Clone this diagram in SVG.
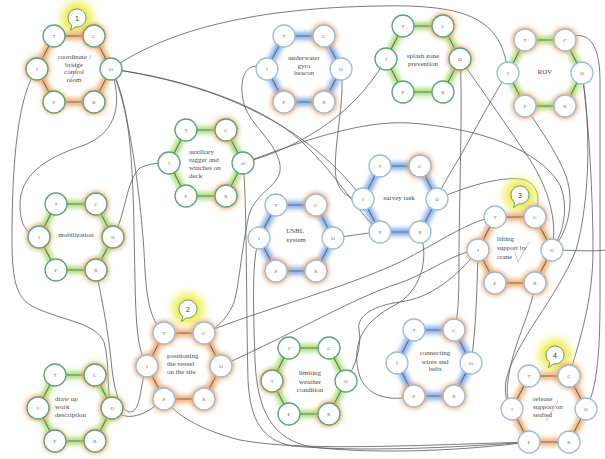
<svg xmlns="http://www.w3.org/2000/svg" xmlns:xlink="http://www.w3.org/1999/xlink" width="605" height="459" viewBox="0 0 605 459">
<style>
.con path{fill:none;stroke:#595959;stroke-width:0.8}
.hx{fill:#fff;stroke:none}
.hg{fill:none;stroke-width:8;opacity:.85;filter:url(#bl)}
.grn .hg{stroke:#a3dc68}
.blu .hg{stroke:#76a3f0}
.org .hg{stroke:#f3a566}
.ed{fill:none;stroke:#5f7468;stroke-width:1.1}
.og{fill:#f3a566;opacity:.9;filter:url(#bl)}
.lt{font-family:"Liberation Serif",serif;font-size:5px;fill:#666;stroke:none;text-anchor:middle}
.t{font-family:"Liberation Serif",serif;font-size:7px;fill:#4a4a4a}
.m{text-anchor:middle}
.bg{fill:#eeec50;filter:url(#bl2)}
.bub{fill:#fff;stroke:#5a9a70;stroke-width:1}
.bn{font-family:"Liberation Sans",sans-serif;font-size:7px;fill:#333;text-anchor:middle}
.chk{fill:none;stroke:#a0a0a0;stroke-width:0.6}
</style>
<defs>
<filter id="bl" x="-50%" y="-50%" width="200%" height="200%"><feGaussianBlur stdDeviation="2.2"/></filter>
<filter id="bl2" x="-50%" y="-50%" width="200%" height="200%"><feGaussianBlur stdDeviation="4"/></filter>
<polygon id="hexg" points="-20,-33 20,-33 37,0 20,33 -20,33 -37,0"/>
<g id="ring">
<circle cx="-20" cy="-33" r="11" fill="#fff"/><circle cx="20" cy="-33" r="11" fill="#fff"/>
<circle cx="-37" cy="0" r="11" fill="#fff"/><circle cx="37" cy="0" r="11" fill="#fff"/>
<circle cx="-20" cy="33" r="11" fill="#fff"/><circle cx="20" cy="33" r="11" fill="#fff"/>
<text class="lt" x="-20" y="-31.2">T</text><text class="lt" x="20" y="-31.2">C</text>
<text class="lt" x="-37" y="1.8">I</text><text class="lt" x="37" y="1.8">O</text>
<text class="lt" x="-20" y="34.8">P</text><text class="lt" x="20" y="34.8">R</text>
</g>
<g id="bubble"><circle r="16" class="bg"/><path class="bub" d="M-1.56,8.86 A9,9 0 1 0 -5.16,7.37 L-6.5,12.5 Z"/></g>
</defs>
<rect width="605" height="459" fill="#fff"/>

<g class="con" id="connectors">
<path d="M111,69 C160,35 240,8 380,6 C470,4 502,20 508,73"/>
<path d="M111,69 C200,82 300,115 363,199"/>
<path d="M111,69 C180,78 270,105 310,150 C340,180 360,215 380,232"/>
<path d="M111,69 C135,110 133,200 135,280 C136,330 138,350 147,366"/>
<path d="M111,69 C128,100 142,200 145,270 C147,305 152,322 164,333"/>
<path d="M111,69 C125,110 112,135 82,146 C45,158 20,175 20,205 C20,225 27,235 39,237"/>
<path d="M37,69 C18,95 12,160 12,240 C12,285 18,298 32,306 C58,320 96,322 104,342 C110,362 106,392 112,408"/>
<path d="M113,237 C126,215 126,180 140,168 C150,163 160,163 169,163"/>
<path d="M96,270 C102,300 108,330 111,360 C114,392 120,412 131,412 C142,410 140,380 147,366"/>
<path d="M112,408 C126,424 146,415 164,399"/>
<path d="M243,163 C290,150 350,122 386,59"/>
<path d="M243,163 C300,142 360,120 410,123 C480,128 540,150 560,185 C570,210 562,235 552,250"/>
<path d="M243,163 C247,200 246,300 248,380 C250,420 262,440 292,446 C360,452 450,448 529,442"/>
<path d="M267,69 C250,60 238,72 243,100 C248,125 276,140 280,165 C283,186 256,190 249,215 C241,250 239,290 233,305 C226,320 215,330 204,333"/>
<path d="M341,69 C346,100 332,150 336,178 C340,195 352,200 363,199"/>
<path d="M333,238 C350,236 365,233 380,232"/>
<path d="M204,333 C260,310 340,290 400,262 C440,242 470,220 495,217"/>
<path d="M221,366 C300,330 360,295 400,283 C430,272 455,252 478,250"/>
<path d="M437,199 C470,185 505,175 525,180 C540,187 540,200 535,217"/>
<path d="M460,59 C463,100 459,200 459,260 C459,300 458,318 454,330"/>
<path d="M460,59 C482,90 510,130 530,160 C548,188 558,220 552,250"/>
<path d="M508,73 C490,100 470,140 455,165 C446,180 440,190 437,199"/>
<path d="M525,106 C537,125 556,150 566,176 C576,205 566,235 552,250"/>
<path d="M565,40 C585,28 600,40 600,80 L600,300 C600,360 596,390 586,409"/>
<path d="M582,73 C589,120 593,200 593,250 C593,300 580,340 569,376"/>
<path d="M582,73 C591,130 590,200 576,250 C556,300 516,340 506,380 C504,395 507,405 512,409"/>
<path d="M535,283 C533,310 512,345 508,380 C506,393 508,404 512,409"/>
<path d="M552,250 C575,250 592,252 605,250"/>
<path d="M478,250 C477,290 476,330 471,363"/>
<path d="M346,381 C356,365 362,345 359,330 C356,315 376,305 400,302 C430,298 456,278 478,250"/>
<path d="M414,396 C395,401 364,400 358,370 C352,340 366,320 395,305 C420,292 430,260 420,232"/>
<path d="M164,399 C176,415 200,430 240,440 C300,451 400,446 529,442"/>
<path d="M259,238 C252,260 253,300 255,360 C257,410 272,440 312,447 C380,455 470,450 529,442"/>
</g>

<g id="n-coordinate" class="org" transform="translate(74,69)">
<use href="#bubble" x="3" y="-51"/>
<use href="#hexg" class="hx"/><use href="#hexg" class="hg"/><use href="#hexg" class="ed"/>
<circle class="og" cx="20" cy="-33" r="13"/><circle class="og" cx="-37" cy="0" r="13"/><circle class="og" cx="20" cy="33" r="13"/><circle class="og" cx="-20" cy="33" r="12"/>
<use href="#ring" stroke="#5aa57c" stroke-width="1.3"/>
<text class="bn" x="3" y="-48.5">1</text>
<text class="t m" x="0" y="-10">coordinate /</text><text class="t m" x="0" y="-2.5">bridge</text><text class="t m" x="0" y="5">control</text><text class="t m" x="0" y="12.5">room</text>
<path class="chk" d="M-5,14 L6,-6"/>
</g>

<g id="n-underwater" class="blu" transform="translate(304,69)">
<use href="#hexg" class="hx"/><use href="#hexg" class="hg"/><use href="#hexg" class="ed"/>
<circle class="og" cx="20" cy="-33" r="13"/><circle class="og" cx="-20" cy="33" r="13"/><circle class="og" cx="20" cy="33" r="13"/>
<use href="#ring" stroke="#9dbcd8" stroke-width="1.3"/>
<text class="t m" x="0" y="-9.5">underwater</text><text class="t m" x="0" y="-1.5">gyro</text><text class="t m" x="0" y="6">beacon</text>
</g>

<g id="n-splash" class="grn" transform="translate(423,59)">
<use href="#hexg" class="hx"/><use href="#hexg" class="hg"/><use href="#hexg" class="ed"/>
<circle class="og" cx="20" cy="-33" r="13"/><circle class="og" cx="37" cy="0" r="13"/>
<use href="#ring" stroke="#5aa57c" stroke-width="1.3"/>
<text class="t m" x="0" y="-1">splash zone</text><text class="t m" x="0" y="6.5">prevention</text>
</g>

<g id="n-rov" class="grn" transform="translate(545,73)">
<use href="#hexg" class="hx"/><use href="#hexg" class="hg"/><use href="#hexg" class="ed"/>
<circle class="og" cx="-20" cy="-33" r="13"/><circle class="og" cx="20" cy="-33" r="13"/><circle class="og" cx="-20" cy="33" r="13"/><circle class="og" cx="20" cy="33" r="13"/>
<use href="#ring" stroke="#9dbcd8" stroke-width="1.3"/>
<text class="t m" x="0" y="1">ROV</text>
</g>

<g id="n-auxiliary" class="grn" transform="translate(206,163)">
<use href="#hexg" class="hx"/><use href="#hexg" class="hg"/><use href="#hexg" class="ed"/>
<circle class="og" cx="20" cy="-33" r="13"/><circle class="og" cx="20" cy="33" r="13"/>
<use href="#ring" stroke="#5aa57c" stroke-width="1.3"/>
<text class="t" x="-17" y="-9">auxiliary</text><text class="t" x="-17" y="-1.5">tugger and</text><text class="t" x="-17" y="7">winches on</text><text class="t" x="-17" y="15">deck</text>
</g>

<g id="n-mobilization" class="grn" transform="translate(76,237)">
<use href="#hexg" class="hx"/><use href="#hexg" class="hg"/><use href="#hexg" class="ed"/>
<circle class="og" cx="20" cy="-33" r="13"/><circle class="og" cx="-37" cy="0" r="13"/><circle class="og" cx="37" cy="0" r="13"/><circle class="og" cx="20" cy="33" r="13"/>
<use href="#ring" stroke="#5aa57c" stroke-width="1.3"/>
<text class="t m" x="0" y="0">mobilization</text>
</g>

<g id="n-usbl" class="blu" transform="translate(296,238)">
<use href="#hexg" class="hx"/><use href="#hexg" class="hg"/><use href="#hexg" class="ed"/>
<circle class="og" cx="20" cy="-33" r="13"/><circle class="og" cx="-20" cy="33" r="13"/><circle class="og" cx="20" cy="33" r="13"/>
<use href="#ring" stroke="#9dbcd8" stroke-width="1.3"/>
<text class="t m" x="-1" y="-5.5">USBL</text><text class="t m" x="0" y="3.5">system</text>
</g>

<g id="n-survey" class="blu" transform="translate(400,199)">
<use href="#hexg" class="hx"/><use href="#hexg" class="hg"/><use href="#hexg" class="ed"/>
<circle class="og" cx="20" cy="-33" r="13"/>
<use href="#ring" stroke="#9dbcd8" stroke-width="1.3"/>
<text class="t m" x="-1" y="0.5">survey task</text>
</g>

<g id="n-lifting" class="org" transform="translate(515,250)">
<use href="#bubble" x="5" y="-55"/>
<use href="#hexg" class="hx"/><use href="#hexg" class="hg"/><use href="#hexg" class="ed"/>
<circle class="og" cx="20" cy="-33" r="13"/><circle class="og" cx="-37" cy="0" r="12"/><circle class="og" cx="-20" cy="33" r="13"/><circle class="og" cx="20" cy="33" r="13"/>
<use href="#ring" stroke="#9dbcd8" stroke-width="1.3"/>
<text class="bn" x="5" y="-52.5">3</text>
<text class="t" x="-18" y="-9.5">lifting</text><text class="t" x="-18" y="-0.5">support by</text><text class="t" x="-18" y="9">crane</text>
<path class="chk" d="M0,2 L3,12 L14,-8"/>
</g>

<g id="n-positioning" class="org" transform="translate(184,366)">
<use href="#bubble" x="4" y="-57"/>
<use href="#hexg" class="hx"/><use href="#hexg" class="hg"/><use href="#hexg" class="ed"/>
<circle class="og" cx="-20" cy="-33" r="13"/><circle class="og" cx="20" cy="-33" r="13"/><circle class="og" cx="-37" cy="0" r="13"/><circle class="og" cx="37" cy="0" r="13"/><circle class="og" cx="-20" cy="33" r="13"/><circle class="og" cx="20" cy="33" r="13"/>
<use href="#ring" stroke="#9dbcd8" stroke-width="1.3"/>
<text class="bn" x="4" y="-54.5">2</text>
<text class="t" x="-17" y="-8.5">positioning</text><text class="t" x="-17" y="-0.5">the vessel</text><text class="t" x="-17" y="7.5">on the site</text>
</g>

<g id="n-drawup" class="grn" transform="translate(75,408)">
<use href="#hexg" class="hx"/><use href="#hexg" class="hg"/><use href="#hexg" class="ed"/>
<circle class="og" cx="20" cy="-33" r="13"/><circle class="og" cx="-37" cy="0" r="13"/><circle class="og" cx="37" cy="0" r="13"/><circle class="og" cx="-20" cy="33" r="12"/><circle class="og" cx="20" cy="33" r="13"/>
<use href="#ring" stroke="#5aa57c" stroke-width="1.3"/>
<text class="t" x="-20" y="-7.5">draw up</text><text class="t" x="-20" y="1">work</text><text class="t" x="-20" y="8.5">description</text>
</g>

<g id="n-limiting" class="grn" transform="translate(309,381)">
<use href="#hexg" class="hx"/><use href="#hexg" class="hg"/><use href="#hexg" class="ed"/>
<circle class="og" cx="-37" cy="0" r="13"/><circle class="og" cx="20" cy="33" r="13"/>
<use href="#ring" stroke="#5aa57c" stroke-width="1.3"/>
<text class="t m" x="1" y="-6.5">limiting</text><text class="t m" x="1" y="2.5">weather</text><text class="t m" x="1" y="10.5">condition</text>
</g>

<g id="n-connecting" class="blu" transform="translate(434,363)">
<use href="#hexg" class="hx"/><use href="#hexg" class="hg"/><use href="#hexg" class="ed"/>
<circle class="og" cx="20" cy="-33" r="13"/><circle class="og" cx="-20" cy="33" r="13"/><circle class="og" cx="20" cy="33" r="13"/>
<use href="#ring" stroke="#9dbcd8" stroke-width="1.3"/>
<text class="t m" x="1" y="-8.5">connecting</text><text class="t m" x="1" y="0.5">wires and</text><text class="t m" x="1" y="7.5">belts</text>
</g>

<g id="n-release" class="org" transform="translate(549,409)">
<use href="#bubble" x="6" y="-54"/>
<use href="#hexg" class="hx"/><use href="#hexg" class="hg"/><use href="#hexg" class="ed"/>
<circle class="og" cx="20" cy="-33" r="13"/>
<use href="#ring" stroke="#9dbcd8" stroke-width="1.3"/>
<text class="bn" x="6" y="-51.5">4</text>
<text class="t" x="-16" y="-8.5">release</text><text class="t" x="-16" y="-0.5">support on</text><text class="t" x="-16" y="7.5">seabed</text>
<path class="chk" d="M-3,12 L9,-8"/>
</g>
</svg>
